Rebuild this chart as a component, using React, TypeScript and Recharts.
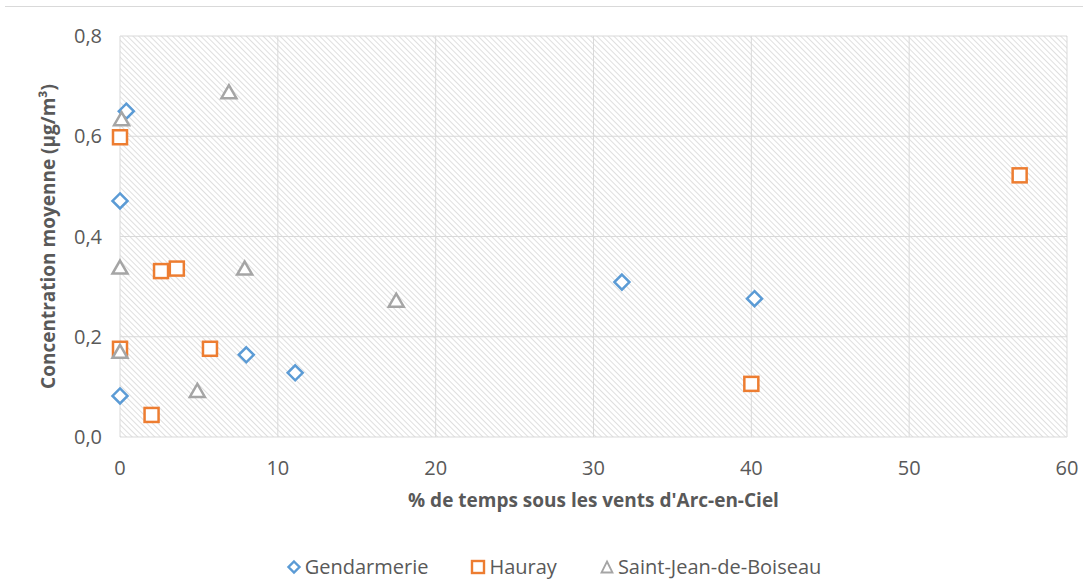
import {
  ScatterChart,
  Scatter,
  XAxis,
  YAxis,
  CartesianGrid,
  Legend,
} from 'recharts';

interface Point {
  x: number;
  y: number;
}

const gendarmerie: Point[] = [
  { x: 0.4, y: 0.65 },
  { x: 0, y: 0.471 },
  { x: 0, y: 0.082 },
  { x: 8.0, y: 0.164 },
  { x: 11.1, y: 0.128 },
  { x: 31.8, y: 0.309 },
  { x: 40.2, y: 0.276 },
];

const hauray: Point[] = [
  { x: 0, y: 0.598 },
  { x: 0, y: 0.176 },
  { x: 2.0, y: 0.044 },
  { x: 2.6, y: 0.331 },
  { x: 3.6, y: 0.336 },
  { x: 5.7, y: 0.176 },
  { x: 40.0, y: 0.106 },
  { x: 57.0, y: 0.522 },
];

const saintJean: Point[] = [
  { x: 0.1, y: 0.634 },
  { x: 0, y: 0.338 },
  { x: 0, y: 0.17 },
  { x: 4.9, y: 0.092 },
  { x: 6.9, y: 0.688 },
  { x: 7.9, y: 0.336 },
  { x: 17.5, y: 0.272 },
];

const xTicks = [0, 10, 20, 30, 40, 50, 60];
const yTicks = [0, 0.2, 0.4, 0.6, 0.8];

const BLUE = '#5b9bd5';
const ORANGE = '#ed7d31';
const GRAY = '#a5a5a5';
const TEXT = '#595959';
const FONT = "'Open Sans', 'Noto Sans', sans-serif";

const Diamond = (props: any) => {
  const { cx, cy } = props;
  const r = 7.5;
  return (
    <polygon
      points={`${cx},${cy - r} ${cx + r},${cy} ${cx},${cy + r} ${cx - r},${cy}`}
      fill="#fff"
      stroke={BLUE}
      strokeWidth={2.5}
    />
  );
};

const Square = (props: any) => {
  const { cx, cy } = props;
  const h = 7;
  return (
    <rect x={cx - h} y={cy - h} width={h * 2} height={h * 2} fill="#fff" stroke={ORANGE} strokeWidth={2.5} />
  );
};

const Triangle = (props: any) => {
  const { cx, cy } = props;
  return (
    <polygon
      points={`${cx},${cy - 7} ${cx + 7.5},${cy + 6} ${cx - 7.5},${cy + 6}`}
      fill="#fff"
      stroke={GRAY}
      strokeWidth={2.5}
    />
  );
};

const legendItems = [
  { name: 'Gendarmerie', color: BLUE, shape: 'diamond' },
  { name: 'Hauray', color: ORANGE, shape: 'square' },
  { name: 'Saint-Jean-de-Boiseau', color: GRAY, shape: 'triangle' },
];

const renderLegendIcon = (shape: string, color: string) => {
  if (shape === 'diamond') {
    return <polygon points="8,2.5 13.5,8 8,13.5 2.5,8" fill="#fff" stroke={color} strokeWidth={2.4} />;
  }
  if (shape === 'square') {
    return <rect x={2} y={2} width={12} height={12} fill="#fff" stroke={color} strokeWidth={2.4} />;
  }
  return <polygon points="8,2.5 13.5,13.5 2.5,13.5" fill="#fff" stroke={color} strokeWidth={1.8} />;
};

const CustomLegend = () => (
  <div
    style={{
      display: 'flex',
      justifyContent: 'center',
      gap: 42,
      paddingLeft: 40,
      fontFamily: FONT,
      fontSize: 20,
      color: TEXT,
      lineHeight: '26px',
    }}
  >
    {legendItems.map((item) => (
      <div key={item.name} style={{ display: 'flex', alignItems: 'center', gap: 3 }}>
        <svg width={16} height={16}>
          {renderLegendIcon(item.shape, item.color)}
        </svg>
        <span>{item.name}</span>
      </div>
    ))}
  </div>
);

const YLabel = (props: any) => {
  const { viewBox } = props;
  const cx = viewBox.x + 48;
  const cy = viewBox.y + viewBox.height / 2;
  return (
    <text
      x={cx}
      y={cy}
      transform={`rotate(-90, ${cx}, ${cy})`}
      textAnchor="middle"
      dominantBaseline="central"
      fill={TEXT}
      fontFamily={FONT}
      fontSize={19}
      fontWeight="bold"
    >
      Concentration moyenne (µg/m³)
    </text>
  );
};

const App = () => {
  return (
    <div
      style={{
        position: 'absolute',
        left: 0,
        top: 0,
        width: 1083,
        height: 579,
        background: '#fff',
      }}
    >
      <div
        style={{
          position: 'absolute',
          left: 5,
          right: 0,
          top: 6,
          borderTop: '1px solid #d9d9d9',
        }}
      />
      <ScatterChart
        width={1083}
        height={579}
        margin={{ top: 36, right: 16, left: 0, bottom: 0 }}
      >
        <defs>
          <pattern
            id="hatch"
            patternUnits="userSpaceOnUse"
            width={4}
            height={4}
            patternTransform="rotate(-45)"
          >
            <rect width={4} height={4} fill="#fff" />
            <line x1={0} y1={0} x2={0} y2={4} stroke="#d2d2d2" strokeWidth={1.4} />
          </pattern>
        </defs>
        <CartesianGrid fill="url(#hatch)" stroke="#d9d9d9" strokeWidth={1} />
        <XAxis
          type="number"
          dataKey="x"
          domain={[0, 60]}
          ticks={xTicks}
          axisLine={false}
          tickLine={false}
          tick={{ fill: TEXT, fontSize: 20, fontFamily: FONT }}
          tickMargin={18}
          height={116}
          label={{
            value: "% de temps sous les vents d'Arc-en-Ciel",
            position: 'insideTop',
            offset: 57,
            fill: TEXT,
            fontSize: 19,
            fontWeight: 'bold',
            fontFamily: FONT,
          }}
        />
        <YAxis
          type="number"
          dataKey="y"
          domain={[0, 0.8]}
          ticks={yTicks}
          axisLine={false}
          tickLine={false}
          width={120}
          tickMargin={12}
          tickFormatter={(v: number) => v.toFixed(1).replace('.', ',')}
          tick={{ fill: TEXT, fontSize: 20, fontFamily: FONT }}
          label={<YLabel />}
        />
        <Legend verticalAlign="bottom" content={<CustomLegend />} wrapperStyle={{ bottom: -1 }} />
        <Scatter name="Gendarmerie" data={gendarmerie} shape={<Diamond />} isAnimationActive={false} />
        <Scatter name="Hauray" data={hauray} shape={<Square />} isAnimationActive={false} />
        <Scatter name="Saint-Jean-de-Boiseau" data={saintJean} shape={<Triangle />} isAnimationActive={false} />
      </ScatterChart>
    </div>
  );
};

export default App;
